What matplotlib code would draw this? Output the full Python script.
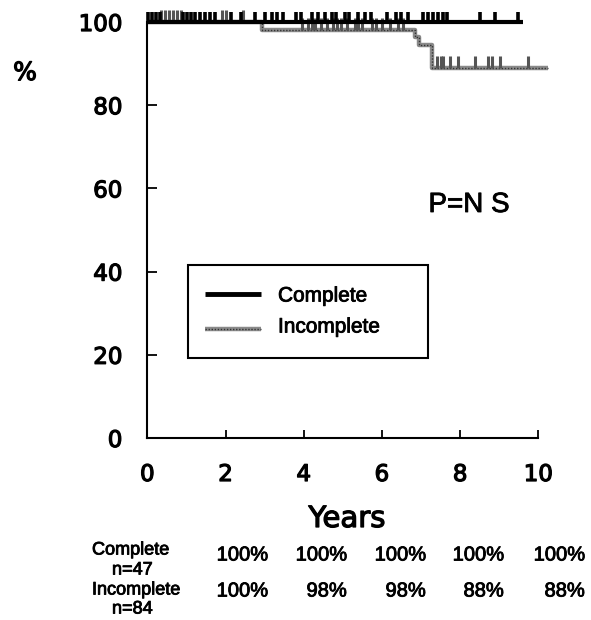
import numpy as np
import matplotlib.pyplot as plt
import matplotlib.patheffects as pe
from matplotlib.patches import Rectangle

# Survival curves (years, % event-free)
complete_t = [0, 9.6]
complete_s = [100, 100]
complete_censor = [0.02, 0.12, 0.22, 0.32, 0.91, 1.02, 1.12, 1.22, 1.35, 1.48, 1.60,
                   1.73, 2.14, 2.40, 2.75, 3.01, 3.19, 3.32, 3.47, 3.80, 3.93, 4.21,
                   4.37, 4.55, 4.72, 4.83, 5.06, 5.16, 5.39, 5.57, 5.73, 6.13, 6.36,
                   6.49, 6.67, 7.05, 7.18, 7.31, 7.43, 7.56, 7.67, 8.51, 8.90, 9.48]

incomplete_t = [0, 2.93, 6.85, 6.95, 7.27, 10.25]
incomplete_s = [100, 98, 96.5, 94.5, 89, 89]
incomplete_censor = [0.35, 0.45, 0.55, 0.65, 0.75, 0.85, 1.9, 2.0, 2.45,
                     3.95, 4.1, 4.2, 4.3, 4.45, 4.6, 4.75, 4.85, 4.95, 5.1, 5.3, 5.4,
                     5.5, 5.75, 5.85, 6.0, 6.2, 6.4, 6.55,
                     7.42, 7.5, 7.55, 7.74, 7.95, 8.38, 8.72, 8.82, 9.02, 9.73]

# Table under the plot
table_groups = ['Complete', 'Incomplete']
table_n = ['n=47', 'n=84']
table_vals = [['100%', '100%', '100%', '100%', '100%'],
              ['100%', '98%', '98%', '88%', '88%']]

W, H = 591, 620
fig = plt.figure(figsize=(W / 100, H / 100), dpi=100)
ax = fig.add_axes([147.3 / W, 1 - 438 / H, (538.3 - 147.3) / W, (438 - 22) / H])

gray = '#8a8a8a'
heavy = [pe.withStroke(linewidth=0.9, foreground='black')]
heavy_s = [pe.withStroke(linewidth=0.6, foreground='black')]


def level_at(t, times, surv):
    idx = np.searchsorted(times, t, side='right') - 1
    return surv[idx]


# incomplete curve
ax.step(incomplete_t, incomplete_s, where='post', color=gray, lw=3.2, clip_on=False,
        solid_capstyle='butt', zorder=2)
ax.step(incomplete_t, incomplete_s, where='post', color='#333333', lw=1.0,
        linestyle=(0, (1, 1.2)), clip_on=False, zorder=2)
lv = [level_at(t, incomplete_t, incomplete_s) for t in incomplete_censor]
ax.vlines(incomplete_censor, lv, np.array(lv) + 2.9, color='#555555', lw=2.2,
          clip_on=False, zorder=2)

# complete curve
ax.step(complete_t, complete_s, where='post', color='black', lw=3.0, clip_on=False,
        solid_capstyle='butt', zorder=3)
ax.vlines(complete_censor, 100, 102.4, color='black', lw=2.6, clip_on=False, zorder=3)

ax.set_xlim(0, 10)
ax.set_ylim(0, 100)
ax.spines['top'].set_visible(False)
ax.spines['right'].set_visible(False)
ax.spines['left'].set_linewidth(1.5)
ax.spines['bottom'].set_linewidth(1.5)
ax.set_xticks(range(0, 11, 2))
ax.set_yticks(range(0, 101, 20))
ax.tick_params(axis='y', direction='in', length=7, width=1.3, pad=18, labelsize=16.5)
ax.tick_params(axis='x', direction='in', length=6, width=1.3, pad=18, labelsize=16.5)
for lab in ax.get_xticklabels() + ax.get_yticklabels():
    lab.set_path_effects(heavy)

fig.text(347 / W, 1 - 519 / H, 'Years', ha='center', va='center', fontsize=21,
         path_effects=heavy)
fig.text(25 / W, 1 - 73 / H, '%', ha='center', va='center', fontsize=18,
         path_effects=heavy)
fig.text(469 / W, 1 - 205 / H, 'P=N S', ha='center', va='center', fontsize=20,
         family='Liberation Sans', path_effects=heavy_s)

# legend box
fig.patches.append(Rectangle((188 / W, 1 - 358 / H), (428 - 188) / W, (358 - 265) / H,
                             transform=fig.transFigure, fill=False, edgecolor='black',
                             lw=1.5))
fig.add_artist(plt.Line2D([205 / W, 261 / W], [1 - 294 / H] * 2, color='black', lw=3.5,
                          transform=fig.transFigure, solid_capstyle='butt'))
fig.add_artist(plt.Line2D([205 / W, 261 / W], [1 - 329 / H] * 2, color=gray, lw=3.2,
                          transform=fig.transFigure, solid_capstyle='butt'))
fig.add_artist(plt.Line2D([205 / W, 261 / W], [1 - 329 / H] * 2, color='#333333', lw=1.0,
                          linestyle=(0, (1, 1.2)), transform=fig.transFigure))
fig.text(278 / W, 1 - 296 / H, 'Complete', ha='left', va='center', fontsize=15,
         family='Liberation Sans', path_effects=heavy_s)
fig.text(278 / W, 1 - 327 / H, 'Incomplete', ha='left', va='center', fontsize=15,
         family='Liberation Sans', path_effects=heavy_s)

# table
lab_y = [550, 590]
n_y = [570, 609]
val_y = [555, 591]
col_x = [268, 347, 426, 504, 585]
for i in range(2):
    fig.text(92 / W, 1 - lab_y[i] / H, table_groups[i], ha='left', va='center',
             fontsize=13, family='Liberation Sans', path_effects=heavy_s)
    fig.text(112 / W, 1 - n_y[i] / H, table_n[i], ha='left', va='center',
             fontsize=13, family='Liberation Sans', path_effects=heavy_s)
    for j, v in enumerate(table_vals[i]):
        fig.text(col_x[j] / W, 1 - val_y[i] / H, v, ha='right', va='center',
                 fontsize=14.5, family='Liberation Sans', path_effects=heavy_s)

fig.savefig('out.png', dpi=100)
